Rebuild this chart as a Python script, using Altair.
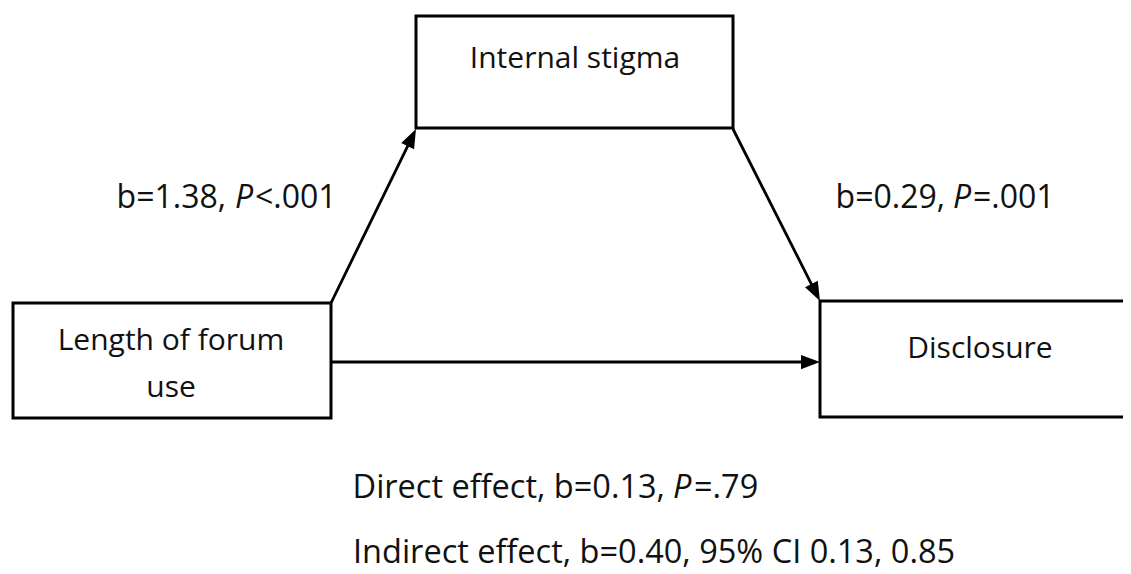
import math
import altair as alt
import pandas as pd

# ---------------- data ----------------
node_names = ["Length of forum use", "Internal stigma", "Disclosure"]
node_lines = [["Length of forum", "use"], ["Internal stigma"], ["Disclosure"]]

path_names = ["a", "b", "c"]                     # a: X->M, b: M->Y, c: X->Y (direct)
path_from = ["Length of forum use", "Internal stigma", "Length of forum use"]
path_to = ["Internal stigma", "Disclosure", "Disclosure"]
path_b = ["1.38", "0.29", "0.13"]
path_p = ["<.001", "=.001", "=.79"]

indirect_b = "0.40"
indirect_ci = ["0.13", "0.85"]

# ---------------- layout (page pixel coordinates) ----------------
W, H = 1115, 566
X0, Y0 = 8, 8
box_layout = {  # left, right, top, bottom
    "Length of forum use": (13, 331, 303, 418),
    "Internal stigma": (416, 733, 16, 128),
    "Disclosure": (820, 1140, 301, 417),
}
label_layout = {  # center x, first line center y, line step
    "Length of forum use": (171, 341, 47),
    "Internal stigma": (575, 59, 0),
    "Disclosure": (980, 349, 0),
}
edge_layout = {  # start point, tip point
    "a": ((331, 303), (416, 129)),
    "b": ((733, 129), (820, 301)),
    "c": ((332, 362), (820, 362)),
}
anno_layout = {  # prefix right edge, P left, suffix left, y center, font size
    "a": (226, 235, 255, 198, 32),
    "b": (945, 953, 973, 198, 32),
    "c": (665, 673, 694, 488, 32.5),
}
indirect_pos = (353, 553)

FONT = "Open Sans"
FS_LABEL = 30
FS_IND = 32.5
INK = "#111111"
HEAD = 361  # arrowhead symbol size

# ---------------- tables ----------------
boxes = pd.DataFrame([
    {"name": n, "x": box_layout[n][0], "x2": box_layout[n][1],
     "y": box_layout[n][2], "y2": box_layout[n][3]} for n in node_names
])

label_rows = []
for n, lines in zip(node_names, node_lines):
    cx, cy, step = label_layout[n]
    for i, t in enumerate(lines):
        label_rows.append({"text": t, "x": cx, "y": cy + i * step})
labels = pd.DataFrame(label_rows)

shaft_rows, head_rows = [], []
half = math.sqrt(HEAD) / 2
for e in path_names:
    (sx, sy), (tx, ty) = edge_layout[e]
    dx, dy = tx - sx, ty - sy
    L = math.hypot(dx, dy)
    ux, uy = dx / L, dy / L
    cx, cy = tx - ux * half, ty - uy * half
    shaft_rows.append({"x": sx, "y": sy, "x2": cx, "y2": cy})
    ang = math.degrees(math.atan2(dx, -dy)) % 360
    head_rows.append({"x": cx, "y": cy, "angle": ang})
shafts = pd.DataFrame(shaft_rows)
heads = pd.DataFrame(head_rows)

pre_rows, p_rows, suf_rows = [], [], []
for e, b, p in zip(path_names, path_b, path_p):
    xr, xp, xs, yc, fs = anno_layout[e]
    prefix = ("Direct effect, " if e == "c" else "") + f"b={b},"
    pre_rows.append({"text": prefix, "x": xr, "y": yc, "fs": fs})
    p_rows.append({"text": "P", "x": xp, "y": yc, "fs": fs})
    suf_rows.append({"text": p, "x": xs, "y": yc, "fs": fs})
pre = pd.DataFrame(pre_rows)
pp = pd.DataFrame(p_rows)
suf = pd.DataFrame(suf_rows)
ind = pd.DataFrame([{
    "text": f"Indirect effect, b={indirect_b}, 95% CI {indirect_ci[0]}, {indirect_ci[1]}",
    "x": indirect_pos[0], "y": indirect_pos[1], "fs": FS_IND}])
labels["fs"] = FS_LABEL

# ---------------- scales ----------------
xs_ = alt.Scale(domain=[X0, X0 + W], nice=False, zero=False)
ys_ = alt.Scale(domain=[Y0, Y0 + H], nice=False, zero=False, reverse=True)
X = lambda f="x": alt.X(f"{f}:Q", scale=xs_, axis=None)
Y = lambda f="y": alt.Y(f"{f}:Q", scale=ys_, axis=None)

rects = alt.Chart(boxes).mark_rect(
    fill="white", stroke="black", strokeWidth=3, clip=True
).encode(x=X(), x2="x2:Q", y=Y(), y2="y2:Q")

rules = alt.Chart(shafts).mark_rule(color="black", strokeWidth=2.8).encode(
    x=X(), x2="x2:Q", y=Y(), y2="y2:Q")

arrowheads = alt.Chart(heads).mark_point(
    shape="M0,-1L-0.75,1L0.75,1Z", filled=True, size=HEAD, color="black", opacity=1
).encode(x=X(), y=Y(), angle=alt.Angle("angle:Q", scale=None))

def txt(df, align, style="normal"):
    return alt.Chart(df).mark_text(
        font=FONT, color=INK, align=align, baseline="middle", fontStyle=style
    ).encode(x=X(), y=Y(), text="text:N",
             size=alt.Size("fs:Q", scale=None, legend=None))

chart = alt.layer(
    rects, rules, arrowheads,
    txt(labels, "center"),
    txt(pre, "right"), txt(pp, "left", "italic"), txt(suf, "left"),
    txt(ind, "left"),
).properties(
    width=W, height=H, padding=0, autosize=alt.AutoSizeParams(type="none"),
    background="white"
).configure_view(strokeWidth=0)

chart.save("out.html", embed_options={"renderer": "svg", "actions": False})
